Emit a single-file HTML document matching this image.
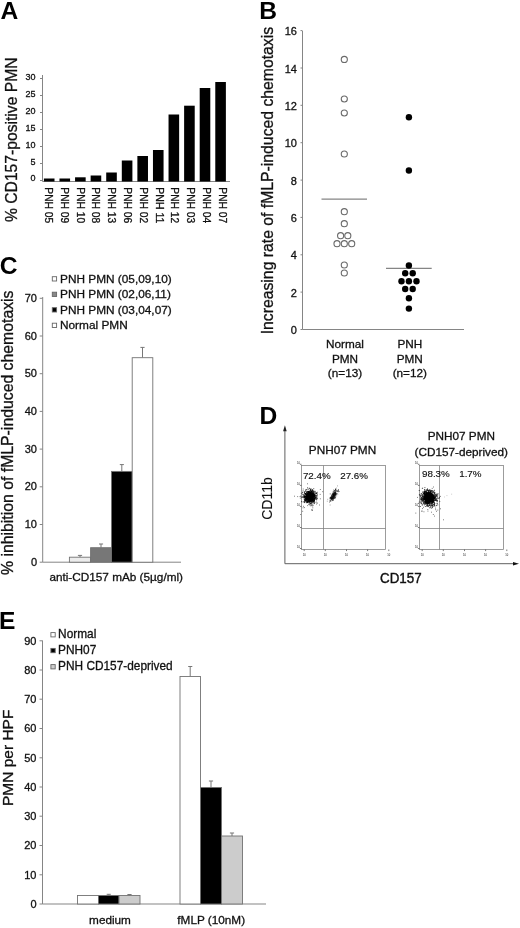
<!DOCTYPE html>
<html><head><meta charset="utf-8"><title>Figure</title>
<style>
html,body{margin:0;padding:0;background:#fff;}
svg{display:block;filter:blur(0.4px)}
text{font-family:"Liberation Sans",sans-serif;fill:#111;stroke:#111;stroke-width:0.3px}
.t{font-size:11.75px}
.s{font-size:10px}
.big{font-size:16px}
.pl{font-size:24.6px;font-weight:bold;fill:#000;stroke:none}
.ax{stroke:#858585;stroke-width:1;fill:none}
.tk{stroke:#858585;stroke-width:1}
</style></head><body>
<svg width="520" height="928" viewBox="0 0 520 928">
<rect width="520" height="928" fill="#fff"/>

<g id="A">
<text class="pl" x="0.6" y="19">A</text>
<text class="big" transform="translate(17.3,222) rotate(-90)" textLength="164.5" lengthAdjust="spacingAndGlyphs" style="font-size:15.6px">% CD157-positive PMN</text>
<path class="ax" d="M42.5 75 V181.5 H230"/>
<path class="tk" d="M40.0 180.5 H42.5"/>
<text class="s" x="35.5" y="181.4" text-anchor="end" style="font-size:9px">0</text>
<path class="tk" d="M40.0 163.5 H42.5"/>
<text class="s" x="35.5" y="164.6" text-anchor="end" style="font-size:9px">5</text>
<path class="tk" d="M40.0 146.5 H42.5"/>
<text class="s" x="35.5" y="147.7" text-anchor="end" style="font-size:9px">10</text>
<path class="tk" d="M40.0 129.5 H42.5"/>
<text class="s" x="35.5" y="130.9" text-anchor="end" style="font-size:9px">15</text>
<path class="tk" d="M40.0 112.5 H42.5"/>
<text class="s" x="35.5" y="114.1" text-anchor="end" style="font-size:9px">20</text>
<path class="tk" d="M40.0 95.5 H42.5"/>
<text class="s" x="35.5" y="97.2" text-anchor="end" style="font-size:9px">25</text>
<path class="tk" d="M40.0 78.5 H42.5"/>
<text class="s" x="35.5" y="80.4" text-anchor="end" style="font-size:9px">30</text>
<rect x="43.90" y="178.5" width="10.6" height="3.00" fill="#000"/>
<text transform="translate(45.20,187.3) rotate(90)" textLength="36" lengthAdjust="spacingAndGlyphs" style="font-size:10.3px">PNH 05</text>
<rect x="59.48" y="178.5" width="10.6" height="3.00" fill="#000"/>
<text transform="translate(60.96,187.3) rotate(90)" textLength="36" lengthAdjust="spacingAndGlyphs" style="font-size:10.3px">PNH 09</text>
<rect x="75.06" y="177.3" width="10.6" height="4.20" fill="#000"/>
<text transform="translate(76.72,187.3) rotate(90)" textLength="36" lengthAdjust="spacingAndGlyphs" style="font-size:10.3px">PNH 10</text>
<rect x="90.64" y="175.5" width="10.6" height="6.00" fill="#000"/>
<text transform="translate(92.48,187.3) rotate(90)" textLength="36" lengthAdjust="spacingAndGlyphs" style="font-size:10.3px">PNH 08</text>
<rect x="106.22" y="172.5" width="10.6" height="9.00" fill="#000"/>
<text transform="translate(108.24,187.3) rotate(90)" textLength="36" lengthAdjust="spacingAndGlyphs" style="font-size:10.3px">PNH 13</text>
<rect x="121.80" y="160.5" width="10.6" height="21.00" fill="#000"/>
<text transform="translate(124.00,187.3) rotate(90)" textLength="36" lengthAdjust="spacingAndGlyphs" style="font-size:10.3px">PNH 06</text>
<rect x="137.38" y="156" width="10.6" height="25.50" fill="#000"/>
<text transform="translate(139.76,187.3) rotate(90)" textLength="36" lengthAdjust="spacingAndGlyphs" style="font-size:10.3px">PNH 02</text>
<rect x="152.96" y="150" width="10.6" height="31.50" fill="#000"/>
<text transform="translate(155.52,187.3) rotate(90)" textLength="36" lengthAdjust="spacingAndGlyphs" style="font-size:10.3px">PNH 11</text>
<rect x="168.54" y="114.5" width="10.6" height="67.00" fill="#000"/>
<text transform="translate(171.28,187.3) rotate(90)" textLength="36" lengthAdjust="spacingAndGlyphs" style="font-size:10.3px">PNH 12</text>
<rect x="184.12" y="105.7" width="10.6" height="75.80" fill="#000"/>
<text transform="translate(187.04,187.3) rotate(90)" textLength="36" lengthAdjust="spacingAndGlyphs" style="font-size:10.3px">PNH 03</text>
<rect x="199.70" y="88" width="10.6" height="93.50" fill="#000"/>
<text transform="translate(202.80,187.3) rotate(90)" textLength="36" lengthAdjust="spacingAndGlyphs" style="font-size:10.3px">PNH 04</text>
<rect x="215.28" y="82" width="10.6" height="99.50" fill="#000"/>
<text transform="translate(218.56,187.3) rotate(90)" textLength="36" lengthAdjust="spacingAndGlyphs" style="font-size:10.3px">PNH 07</text>
</g>
<g id="B">
<text class="pl" x="259.2" y="19">B</text>
<text class="big" transform="translate(272.5,334.3) rotate(-90)" textLength="307.4" lengthAdjust="spacingAndGlyphs">Increasing rate of fMLP-induced chemotaxis</text>
<path class="ax" d="M302.5 31 V329.5 H464"/>
<path class="tk" d="M300.5 329.5 H302.5"/>
<text class="t" x="296.9" y="334.1" text-anchor="end" style="font-size:11px">0</text>
<path class="tk" d="M300.5 292.1 H302.5"/>
<text class="t" x="296.9" y="296.7" text-anchor="end" style="font-size:11px">2</text>
<path class="tk" d="M300.5 254.8 H302.5"/>
<text class="t" x="296.9" y="259.4" text-anchor="end" style="font-size:11px">4</text>
<path class="tk" d="M300.5 217.4 H302.5"/>
<text class="t" x="296.9" y="222.0" text-anchor="end" style="font-size:11px">6</text>
<path class="tk" d="M300.5 180.1 H302.5"/>
<text class="t" x="296.9" y="184.7" text-anchor="end" style="font-size:11px">8</text>
<path class="tk" d="M300.5 142.7 H302.5"/>
<text class="t" x="296.9" y="147.3" text-anchor="end" style="font-size:11px">10</text>
<path class="tk" d="M300.5 105.3 H302.5"/>
<text class="t" x="296.9" y="109.9" text-anchor="end" style="font-size:11px">12</text>
<path class="tk" d="M300.5 68.0 H302.5"/>
<text class="t" x="296.9" y="72.6" text-anchor="end" style="font-size:11px">14</text>
<path class="tk" d="M300.5 30.6 H302.5"/>
<text class="t" x="296.9" y="35.2" text-anchor="end" style="font-size:11px">16</text>
<circle cx="344.3" cy="59.4" r="3.05" fill="#fff" stroke="#6a6a6a" stroke-width="1.1"/>
<circle cx="344.3" cy="99" r="3.05" fill="#fff" stroke="#6a6a6a" stroke-width="1.1"/>
<circle cx="344.3" cy="113" r="3.05" fill="#fff" stroke="#6a6a6a" stroke-width="1.1"/>
<circle cx="344.3" cy="154" r="3.05" fill="#fff" stroke="#6a6a6a" stroke-width="1.1"/>
<circle cx="344.3" cy="211.7" r="3.05" fill="#fff" stroke="#6a6a6a" stroke-width="1.1"/>
<circle cx="344.3" cy="223.7" r="3.05" fill="#fff" stroke="#6a6a6a" stroke-width="1.1"/>
<circle cx="340.6" cy="235.7" r="3.05" fill="#fff" stroke="#6a6a6a" stroke-width="1.1"/>
<circle cx="347.8" cy="235.7" r="3.05" fill="#fff" stroke="#6a6a6a" stroke-width="1.1"/>
<circle cx="337" cy="243.7" r="3.05" fill="#fff" stroke="#6a6a6a" stroke-width="1.1"/>
<circle cx="344.3" cy="243.7" r="3.05" fill="#fff" stroke="#6a6a6a" stroke-width="1.1"/>
<circle cx="351.7" cy="243.7" r="3.05" fill="#fff" stroke="#6a6a6a" stroke-width="1.1"/>
<circle cx="344.3" cy="265" r="3.05" fill="#fff" stroke="#6a6a6a" stroke-width="1.1"/>
<circle cx="344.3" cy="273" r="3.05" fill="#fff" stroke="#6a6a6a" stroke-width="1.1"/>
<path d="M321.5 199.2 H367" stroke="#858585" stroke-width="1.2"/>
<path d="M386 268.3 H431.7" stroke="#858585" stroke-width="1.2"/>
<circle cx="408.9" cy="117.2" r="3.2" fill="#000"/>
<circle cx="408.9" cy="170.5" r="3.2" fill="#000"/>
<circle cx="408.9" cy="265.5" r="3.2" fill="#000"/>
<circle cx="405.2" cy="273.2" r="3.2" fill="#000"/>
<circle cx="412.7" cy="273.2" r="3.2" fill="#000"/>
<circle cx="401.5" cy="281.2" r="3.2" fill="#000"/>
<circle cx="408.9" cy="281.2" r="3.2" fill="#000"/>
<circle cx="416.5" cy="281.2" r="3.2" fill="#000"/>
<circle cx="405.2" cy="289" r="3.2" fill="#000"/>
<circle cx="412.7" cy="289" r="3.2" fill="#000"/>
<circle cx="408.9" cy="298.2" r="3.2" fill="#000"/>
<circle cx="408.9" cy="308.6" r="3.2" fill="#000"/>
<text class="t" x="345" y="348.4" text-anchor="middle">Normal</text>
<text class="t" x="345" y="362.7" text-anchor="middle">PMN</text>
<text class="t" x="345" y="377.0" text-anchor="middle">(n=13)</text>
<text class="t" x="409.8" y="348.4" text-anchor="middle">PNH</text>
<text class="t" x="409.8" y="362.7" text-anchor="middle">PMN</text>
<text class="t" x="409.8" y="377.0" text-anchor="middle">(n=12)</text>
</g>
<g id="C">
<text class="pl" x="-0.2" y="273.8">C</text>
<text class="big" transform="translate(13,575) rotate(-90)" textLength="284.5" lengthAdjust="spacingAndGlyphs" style="font-size:15.75px">% inhibition of fMLP-induced chemotaxis</text>
<path class="ax" d="M42.7 297 V562.2 H181"/>
<path class="tk" d="M39.7 562.2 H42.7"/>
<text class="t" x="37.0" y="565.8" text-anchor="end" style="font-size:11px">0</text>
<path class="tk" d="M39.7 524.5 H42.7"/>
<text class="t" x="37.0" y="528.1" text-anchor="end" style="font-size:11px">10</text>
<path class="tk" d="M39.7 486.8 H42.7"/>
<text class="t" x="37.0" y="490.4" text-anchor="end" style="font-size:11px">20</text>
<path class="tk" d="M39.7 449.1 H42.7"/>
<text class="t" x="37.0" y="452.7" text-anchor="end" style="font-size:11px">30</text>
<path class="tk" d="M39.7 411.4 H42.7"/>
<text class="t" x="37.0" y="415.0" text-anchor="end" style="font-size:11px">40</text>
<path class="tk" d="M39.7 373.7 H42.7"/>
<text class="t" x="37.0" y="377.3" text-anchor="end" style="font-size:11px">50</text>
<path class="tk" d="M39.7 336.0 H42.7"/>
<text class="t" x="37.0" y="339.6" text-anchor="end" style="font-size:11px">60</text>
<path class="tk" d="M39.7 298.3 H42.7"/>
<text class="t" x="37.0" y="301.9" text-anchor="end" style="font-size:11px">70</text>
<path d="M80.0 557.2 V555.4 M77.9 555.4 H82.1" stroke="#777" stroke-width="1" fill="none"/>
<rect x="69.4" y="557.2" width="21.2" height="5.0" fill="#ececec" stroke="#727272" stroke-width="0.9"/>
<path d="M101.0 547.7 V544 M99.0 544 H103.1" stroke="#777" stroke-width="1" fill="none"/>
<rect x="90.6" y="547.7" width="20.9" height="14.5" fill="#777" stroke="#727272" stroke-width="0.9"/>
<path d="M121.8 471.4 V464.6 M119.8 464.6 H123.9" stroke="#777" stroke-width="1" fill="none"/>
<rect x="111.5" y="471.4" width="20.7" height="90.8" fill="#000" stroke="#727272" stroke-width="0.9"/>
<path d="M142.5 357.7 V347.4 M140.4 347.4 H144.6" stroke="#777" stroke-width="1" fill="none"/>
<rect x="132.2" y="357.7" width="20.6" height="204.5" fill="#fff" stroke="#727272" stroke-width="0.9"/>
<text class="t" x="49.4" y="580.6" textLength="133.6" lengthAdjust="spacingAndGlyphs">anti-CD157 mAb (5µg/ml)</text>
<rect x="52.3" y="276.7" width="4.3" height="4.3" fill="#fff" stroke="#666" stroke-width="0.9"/>
<text class="t" x="60" y="282.8" style="font-size:11.83px">PNH PMN (05,09,10)</text>
<rect x="52.3" y="292.2" width="4.3" height="4.3" fill="#888" stroke="#666" stroke-width="0.9"/>
<text class="t" x="60" y="298.3" style="font-size:11.83px">PNH PMN (02,06,11)</text>
<rect x="52.3" y="307.7" width="4.3" height="4.3" fill="#000" stroke="#666" stroke-width="0.9"/>
<text class="t" x="60" y="313.8" style="font-size:11.83px">PNH PMN (03,04,07)</text>
<rect x="52.3" y="323.2" width="4.3" height="4.3" fill="#fff" stroke="#666" stroke-width="0.9"/>
<text class="t" x="60" y="329.3" style="font-size:11.83px">Normal PMN</text>
</g>
<g id="D">
<text class="pl" x="259.6" y="424.2">D</text>
<path d="M284.9 430 V563.7 H514" stroke="#606060" stroke-width="1" fill="none"/>
<path d="M284.9 425.3 L283.1 431.3 H286.7 Z" fill="#222"/>
<path d="M519 563.7 L513 562 V565.4 Z" fill="#111"/>
<text class="big" transform="translate(272,519.8) rotate(-90)" textLength="42.6" lengthAdjust="spacingAndGlyphs" style="font-size:14.8px;stroke-width:0.1px">CD11b</text>
<text class="big" x="380" y="583.3" textLength="41.6" lengthAdjust="spacingAndGlyphs" style="font-size:14px;stroke-width:0.4px">CD157</text>
<text class="t" x="342.5" y="454.3" text-anchor="middle">PNH07 PMN</text>
<text class="t" x="461.3" y="440" text-anchor="middle">PNH07 PMN</text>
<text class="t" x="461.3" y="455.5" text-anchor="middle">(CD157-deprived)</text>
<rect x="301.5" y="465.5" width="84.0" height="84.0" fill="none" stroke="#7c7c7c" stroke-width="0.75"/>
<path d="M323.5 465.5 V549.5 M301.5 528.5 H385.5" stroke="#7c7c7c" stroke-width="0.75" fill="none"/>
<text x="296.9" y="548.1" style="font-size:4.4px;fill:#111;stroke:none" textLength="3" lengthAdjust="spacingAndGlyphs">10</text>
<path d="M299.9 548.5 H301.5" stroke="#444" stroke-width="0.7"/>
<text x="302.7" y="555.8" style="font-size:4.4px;fill:#111;stroke:none" textLength="3" lengthAdjust="spacingAndGlyphs">10</text>
<path d="M304.2 549.5 v1.6" stroke="#444" stroke-width="0.7"/>
<text x="296.9" y="527.1" style="font-size:4.4px;fill:#111;stroke:none" textLength="3" lengthAdjust="spacingAndGlyphs">10</text>
<path d="M299.9 527.5 H301.5" stroke="#444" stroke-width="0.7"/>
<text x="323.8" y="555.8" style="font-size:4.4px;fill:#111;stroke:none" textLength="3" lengthAdjust="spacingAndGlyphs">10</text>
<path d="M325.3 549.5 v1.6" stroke="#444" stroke-width="0.7"/>
<text x="296.9" y="506.0" style="font-size:4.4px;fill:#111;stroke:none" textLength="3" lengthAdjust="spacingAndGlyphs">10</text>
<path d="M299.9 506.4 H301.5" stroke="#444" stroke-width="0.7"/>
<text x="345.0" y="555.8" style="font-size:4.4px;fill:#111;stroke:none" textLength="3" lengthAdjust="spacingAndGlyphs">10</text>
<path d="M346.5 549.5 v1.6" stroke="#444" stroke-width="0.7"/>
<text x="296.9" y="484.9" style="font-size:4.4px;fill:#111;stroke:none" textLength="3" lengthAdjust="spacingAndGlyphs">10</text>
<path d="M299.9 485.4 H301.5" stroke="#444" stroke-width="0.7"/>
<text x="366.1" y="555.8" style="font-size:4.4px;fill:#111;stroke:none" textLength="3" lengthAdjust="spacingAndGlyphs">10</text>
<path d="M367.6 549.5 v1.6" stroke="#444" stroke-width="0.7"/>
<text x="296.9" y="463.9" style="font-size:4.4px;fill:#111;stroke:none" textLength="3" lengthAdjust="spacingAndGlyphs">10</text>
<path d="M299.9 464.3 H301.5" stroke="#444" stroke-width="0.7"/>
<text x="387.3" y="555.8" style="font-size:4.4px;fill:#111;stroke:none" textLength="3" lengthAdjust="spacingAndGlyphs">10</text>
<path d="M388.8 549.5 v1.6" stroke="#444" stroke-width="0.7"/>
<text x="302.9" y="478.6" style="font-size:9.8px;stroke-width:0.15px">72.4%</text>
<text x="340.2" y="478.6" style="font-size:9.8px;stroke-width:0.15px">27.6%</text>
<rect x="419.5" y="465.5" width="84.0" height="84.0" fill="none" stroke="#7c7c7c" stroke-width="0.75"/>
<path d="M439.5 465.5 V549.5 M419.5 528.5 H503.5" stroke="#7c7c7c" stroke-width="0.75" fill="none"/>
<text x="414.9" y="548.1" style="font-size:4.4px;fill:#111;stroke:none" textLength="3" lengthAdjust="spacingAndGlyphs">10</text>
<path d="M417.9 548.5 H419.5" stroke="#444" stroke-width="0.7"/>
<text x="420.7" y="555.8" style="font-size:4.4px;fill:#111;stroke:none" textLength="3" lengthAdjust="spacingAndGlyphs">10</text>
<path d="M422.2 549.5 v1.6" stroke="#444" stroke-width="0.7"/>
<text x="414.9" y="527.1" style="font-size:4.4px;fill:#111;stroke:none" textLength="3" lengthAdjust="spacingAndGlyphs">10</text>
<path d="M417.9 527.5 H419.5" stroke="#444" stroke-width="0.7"/>
<text x="441.8" y="555.8" style="font-size:4.4px;fill:#111;stroke:none" textLength="3" lengthAdjust="spacingAndGlyphs">10</text>
<path d="M443.3 549.5 v1.6" stroke="#444" stroke-width="0.7"/>
<text x="414.9" y="506.0" style="font-size:4.4px;fill:#111;stroke:none" textLength="3" lengthAdjust="spacingAndGlyphs">10</text>
<path d="M417.9 506.4 H419.5" stroke="#444" stroke-width="0.7"/>
<text x="463.0" y="555.8" style="font-size:4.4px;fill:#111;stroke:none" textLength="3" lengthAdjust="spacingAndGlyphs">10</text>
<path d="M464.5 549.5 v1.6" stroke="#444" stroke-width="0.7"/>
<text x="414.9" y="484.9" style="font-size:4.4px;fill:#111;stroke:none" textLength="3" lengthAdjust="spacingAndGlyphs">10</text>
<path d="M417.9 485.4 H419.5" stroke="#444" stroke-width="0.7"/>
<text x="484.1" y="555.8" style="font-size:4.4px;fill:#111;stroke:none" textLength="3" lengthAdjust="spacingAndGlyphs">10</text>
<path d="M485.6 549.5 v1.6" stroke="#444" stroke-width="0.7"/>
<text x="414.9" y="463.9" style="font-size:4.4px;fill:#111;stroke:none" textLength="3" lengthAdjust="spacingAndGlyphs">10</text>
<path d="M417.9 464.3 H419.5" stroke="#444" stroke-width="0.7"/>
<text x="505.3" y="555.8" style="font-size:4.4px;fill:#111;stroke:none" textLength="3" lengthAdjust="spacingAndGlyphs">10</text>
<path d="M506.8 549.5 v1.6" stroke="#444" stroke-width="0.7"/>
<text x="422" y="477.3" style="font-size:9.8px;stroke-width:0.15px">98.3%</text>
<text x="459.2" y="477.3" style="font-size:9.8px;stroke-width:0.15px">1.7%</text>
<path d="M313.0 500.6h0.8M309.7 494.6h0.8M306.6 496.8h0.8M306.7 492.8h0.8M310.0 497.1h0.8M311.0 494.2h0.8M309.5 496.5h0.8M305.4 498.2h0.8M310.4 503.2h0.8M310.0 496.3h0.8M312.8 497.2h0.8M312.0 495.7h0.8M310.1 499.5h0.8M311.4 497.0h0.8M306.6 497.9h0.8M309.7 498.6h0.8M310.1 499.6h0.8M309.4 497.2h0.8M311.3 493.8h0.8M308.4 495.3h0.8M314.8 496.4h0.8M311.3 498.4h0.8M308.7 492.5h0.8M312.1 495.6h0.8M311.4 493.2h0.8M308.3 500.1h0.8M313.4 493.2h0.8M305.9 496.6h0.8M311.5 497.1h0.8M310.3 494.0h0.8M311.1 499.7h0.8M308.3 492.8h0.8M307.5 498.8h0.8M304.8 496.5h0.8M306.8 496.3h0.8M308.8 496.7h0.8M313.6 497.8h0.8M313.1 496.3h0.8M308.2 497.7h0.8M301.8 496.6h0.8M309.9 493.4h0.8M310.8 495.2h0.8M302.9 496.1h0.8M306.9 495.3h0.8M309.1 500.1h0.8M309.8 496.6h0.8M310.6 491.8h0.8M312.8 493.8h0.8M310.7 493.7h0.8M306.9 495.6h0.8M314.6 498.6h0.8M307.9 495.9h0.8M306.4 496.6h0.8M308.0 498.6h0.8M305.8 495.8h0.8M307.2 494.8h0.8M311.4 497.0h0.8M311.1 499.9h0.8M312.6 493.0h0.8M310.9 491.9h0.8M309.3 501.9h0.8M309.0 495.7h0.8M310.0 496.7h0.8M309.6 494.7h0.8M312.4 499.1h0.8M308.9 497.5h0.8M311.3 499.5h0.8M310.6 498.6h0.8M308.8 493.8h0.8M308.2 499.5h0.8M312.1 497.1h0.8M308.0 497.5h0.8M314.0 500.4h0.8M307.7 496.6h0.8M305.6 493.6h0.8M310.0 496.8h0.8M312.1 500.1h0.8M311.8 500.3h0.8M308.0 493.7h0.8M310.9 503.9h0.8M310.5 493.6h0.8M310.2 500.5h0.8M306.7 498.9h0.8M307.8 500.1h0.8M311.6 497.5h0.8M314.9 495.6h0.8M307.6 501.7h0.8M307.1 502.6h0.8M309.4 493.9h0.8M309.5 497.1h0.8M310.0 496.2h0.8M312.4 490.4h0.8M308.0 496.0h0.8M314.4 491.3h0.8M308.6 493.6h0.8M307.7 498.4h0.8M310.6 500.6h0.8M307.9 497.4h0.8M312.7 499.1h0.8M308.6 499.7h0.8M307.0 501.6h0.8M309.9 496.4h0.8M310.2 499.0h0.8M314.2 496.3h0.8M308.5 498.3h0.8M307.1 492.1h0.8M311.8 495.7h0.8M312.5 493.9h0.8M301.7 497.5h0.8M309.9 501.0h0.8M310.9 497.5h0.8M311.1 495.7h0.8M309.7 493.0h0.8M310.9 494.5h0.8M308.3 498.6h0.8M312.0 494.0h0.8M314.9 495.1h0.8M311.8 499.3h0.8M310.1 497.2h0.8M314.4 499.1h0.8M310.7 491.8h0.8M307.5 499.8h0.8M310.0 494.1h0.8M307.8 495.9h0.8M311.4 497.7h0.8M312.2 494.5h0.8M312.2 495.3h0.8M308.7 501.4h0.8M309.7 496.3h0.8M308.9 495.7h0.8M313.7 500.4h0.8M311.4 497.2h0.8M312.3 496.5h0.8M310.7 497.8h0.8M309.7 501.2h0.8M314.2 500.3h0.8M304.3 501.7h0.8M311.4 495.5h0.8M309.4 499.8h0.8M312.7 499.0h0.8M309.9 496.8h0.8M311.7 496.5h0.8M307.1 495.0h0.8M309.1 497.6h0.8M315.6 493.0h0.8M310.8 496.5h0.8M310.3 500.4h0.8M312.9 496.3h0.8M308.0 493.0h0.8M309.3 500.1h0.8M308.8 498.6h0.8M311.4 497.8h0.8M312.4 496.4h0.8M307.3 493.5h0.8M312.0 495.7h0.8M308.7 499.0h0.8M307.4 501.5h0.8M311.3 495.3h0.8M307.8 499.6h0.8M306.3 495.0h0.8M309.5 497.2h0.8M309.5 497.7h0.8M308.5 496.4h0.8M312.9 498.4h0.8M308.3 501.3h0.8M304.1 496.9h0.8M311.3 499.3h0.8M309.8 495.7h0.8M311.1 496.2h0.8M310.8 489.0h0.8M310.5 494.6h0.8M312.0 498.7h0.8M311.5 495.6h0.8M310.7 495.8h0.8M310.1 496.3h0.8M307.1 502.0h0.8M311.5 491.1h0.8M311.9 492.9h0.8M308.9 495.1h0.8M308.1 497.4h0.8M308.6 492.8h0.8M309.5 497.7h0.8M314.3 495.6h0.8M306.3 495.7h0.8M311.3 494.3h0.8M307.6 498.2h0.8M309.5 497.3h0.8M307.8 494.5h0.8M308.6 496.3h0.8M308.6 497.9h0.8M311.0 498.2h0.8M310.8 494.3h0.8M306.5 498.9h0.8M309.5 497.0h0.8M306.4 496.1h0.8M307.8 494.4h0.8M307.8 492.7h0.8M309.7 499.8h0.8M307.6 497.0h0.8M306.6 498.5h0.8M314.5 493.4h0.8M308.9 500.5h0.8M310.5 497.0h0.8M304.0 496.3h0.8M312.0 500.6h0.8M311.2 495.1h0.8M307.6 491.8h0.8M306.6 499.7h0.8M309.2 493.1h0.8M313.1 492.2h0.8M312.9 495.8h0.8M310.4 498.5h0.8M310.2 500.1h0.8M309.5 495.8h0.8M307.7 492.8h0.8M307.6 499.4h0.8M311.7 500.5h0.8M316.9 498.6h0.8M310.9 493.1h0.8M308.8 502.6h0.8M310.9 496.3h0.8M310.3 491.6h0.8M307.2 493.2h0.8M303.7 498.8h0.8M312.1 496.2h0.8M310.4 494.0h0.8M310.7 498.8h0.8M313.6 500.9h0.8M310.8 496.4h0.8M307.3 495.1h0.8M311.2 498.2h0.8M309.6 501.2h0.8M311.3 496.7h0.8M309.0 496.9h0.8M306.9 494.1h0.8M310.4 495.1h0.8M308.8 500.0h0.8M309.0 500.2h0.8M309.5 500.8h0.8M310.8 492.0h0.8M312.8 496.1h0.8M304.2 497.0h0.8M309.9 493.2h0.8M307.9 498.2h0.8M313.3 499.8h0.8M312.8 499.7h0.8M302.8 494.7h0.8M310.0 489.4h0.8M311.6 499.1h0.8M307.4 495.7h0.8M307.0 496.7h0.8M309.4 496.7h0.8M306.7 497.7h0.8M308.6 499.3h0.8M310.3 492.7h0.8M305.6 496.9h0.8M308.2 498.0h0.8M311.7 496.8h0.8M304.9 493.5h0.8M311.0 493.9h0.8M312.5 496.5h0.8M310.9 494.3h0.8M309.2 488.7h0.8M308.9 498.3h0.8M307.1 494.4h0.8M309.4 496.9h0.8M307.3 498.5h0.8M305.1 499.7h0.8M305.7 494.5h0.8M313.1 494.0h0.8M305.0 496.9h0.8M307.0 493.7h0.8M307.6 494.7h0.8M306.9 493.9h0.8M313.9 494.9h0.8M312.1 492.9h0.8M311.0 493.3h0.8M308.3 498.4h0.8M308.1 491.4h0.8M308.0 496.3h0.8M311.0 494.0h0.8M308.7 496.9h0.8M305.0 496.4h0.8M307.3 497.9h0.8M309.2 496.3h0.8M303.0 496.4h0.8M308.5 494.2h0.8M308.1 493.3h0.8M310.0 498.5h0.8M311.1 495.3h0.8M314.0 499.0h0.8M306.9 496.3h0.8M305.1 496.4h0.8M311.4 500.1h0.8M308.4 491.9h0.8M309.0 500.4h0.8M309.9 500.1h0.8M311.7 500.9h0.8M311.1 494.9h0.8M310.7 503.6h0.8M308.1 491.7h0.8M315.2 497.8h0.8M307.8 495.1h0.8M305.3 498.6h0.8M309.9 495.0h0.8M308.4 495.5h0.8M312.4 496.2h0.8M313.2 494.4h0.8M307.8 495.4h0.8M308.0 496.5h0.8M312.3 500.0h0.8M306.6 500.2h0.8M309.8 501.0h0.8M309.0 494.4h0.8M311.6 498.4h0.8M308.3 496.8h0.8M309.9 497.5h0.8M304.9 493.4h0.8M309.6 497.4h0.8M308.1 491.9h0.8M313.1 495.9h0.8M306.7 501.0h0.8M312.6 499.5h0.8M311.8 498.2h0.8M306.9 496.8h0.8M310.5 498.4h0.8M310.8 494.0h0.8M307.9 495.8h0.8M309.0 494.3h0.8M304.6 493.4h0.8M310.3 496.7h0.8M311.1 491.6h0.8M308.4 499.1h0.8M304.2 493.8h0.8M305.0 500.0h0.8M309.6 495.2h0.8M309.9 496.5h0.8M311.9 499.9h0.8M312.0 497.6h0.8M311.6 498.9h0.8M312.6 491.7h0.8M310.4 496.9h0.8M309.9 496.0h0.8M309.3 498.0h0.8M310.0 497.0h0.8M306.6 493.3h0.8M307.5 491.9h0.8M308.1 494.4h0.8M304.6 491.5h0.8M308.2 495.1h0.8M315.4 499.0h0.8M307.4 495.4h0.8M306.8 494.6h0.8M308.6 496.6h0.8M307.8 498.9h0.8M311.2 502.0h0.8M306.0 498.5h0.8M308.5 492.4h0.8M308.7 492.3h0.8M309.4 504.1h0.8M313.0 501.6h0.8M312.7 492.5h0.8M310.6 497.1h0.8M310.7 493.9h0.8M304.1 502.4h0.8M312.7 497.5h0.8M308.2 497.2h0.8M306.2 499.3h0.8M309.9 496.3h0.8M308.3 496.5h0.8M309.9 495.6h0.8M312.1 497.3h0.8M309.2 494.4h0.8M312.8 500.2h0.8M311.4 491.7h0.8M308.6 499.4h0.8M309.6 500.1h0.8M308.3 498.9h0.8M310.9 490.1h0.8M308.4 496.1h0.8M307.8 494.3h0.8M313.8 496.4h0.8M311.6 493.1h0.8M303.9 495.4h0.8M310.6 494.7h0.8M310.9 498.9h0.8M308.3 496.5h0.8M307.5 499.6h0.8M314.3 498.0h0.8M308.1 494.8h0.8M308.7 499.1h0.8M307.5 500.7h0.8M306.2 496.7h0.8M313.1 501.5h0.8M308.4 498.8h0.8M316.3 499.9h0.8M303.6 497.5h0.8M315.9 493.6h0.8M312.0 491.1h0.8M313.8 494.4h0.8M311.7 499.2h0.8M302.0 492.8h0.8M310.4 492.6h0.8M309.4 494.1h0.8M313.1 495.3h0.8M307.0 498.4h0.8M312.8 496.3h0.8M310.3 498.0h0.8M308.2 493.5h0.8M310.9 495.7h0.8M305.8 499.0h0.8M310.7 497.1h0.8M307.5 496.1h0.8M311.1 498.0h0.8M307.3 494.3h0.8M310.4 497.2h0.8M311.8 493.6h0.8M312.0 501.5h0.8M312.1 497.1h0.8M311.9 493.2h0.8M308.3 502.3h0.8M305.1 493.6h0.8M311.7 494.9h0.8M308.0 493.7h0.8M314.0 495.1h0.8M308.8 491.8h0.8M311.6 496.7h0.8M310.8 501.0h0.8M309.9 493.5h0.8M306.8 496.9h0.8M313.1 493.5h0.8M308.8 496.3h0.8M311.3 494.3h0.8M310.3 498.8h0.8M309.4 496.4h0.8M311.2 498.3h0.8M312.9 493.8h0.8M312.8 496.1h0.8M306.4 495.2h0.8M306.2 496.2h0.8M312.3 490.6h0.8M306.3 498.8h0.8M308.7 498.8h0.8M305.9 496.6h0.8M302.5 494.4h0.8M311.5 500.0h0.8M313.9 496.5h0.8M307.1 495.7h0.8M304.3 500.4h0.8M312.7 494.2h0.8M314.4 493.0h0.8M311.0 494.5h0.8M304.8 497.8h0.8M306.4 499.9h0.8M307.1 497.0h0.8M308.2 497.1h0.8M307.8 498.9h0.8M311.1 496.9h0.8M309.2 502.0h0.8M307.6 495.5h0.8M311.6 496.7h0.8M305.1 496.3h0.8M308.5 494.0h0.8M310.0 493.6h0.8M308.8 493.6h0.8M313.7 495.9h0.8M310.7 497.5h0.8M311.4 496.3h0.8M311.5 497.0h0.8M302.9 497.5h0.8M306.0 499.3h0.8M310.1 495.7h0.8M302.7 490.9h0.8M306.3 495.7h0.8M305.8 502.1h0.8M310.7 496.5h0.8M306.8 495.8h0.8M308.9 495.5h0.8M309.3 498.9h0.8M304.7 497.3h0.8M312.5 493.0h0.8M309.0 495.7h0.8M306.4 499.3h0.8M308.6 499.8h0.8M310.6 495.9h0.8M310.3 495.7h0.8M305.1 500.5h0.8M310.5 499.8h0.8M304.6 499.5h0.8M311.7 496.6h0.8M303.8 497.0h0.8M307.7 496.2h0.8M309.6 494.3h0.8M309.1 496.7h0.8M313.4 496.4h0.8M315.8 493.5h0.8M309.1 500.0h0.8M305.3 498.4h0.8M310.6 495.1h0.8M308.9 500.9h0.8M308.3 497.5h0.8M310.7 500.0h0.8M303.9 492.7h0.8M305.9 495.9h0.8M311.2 498.9h0.8M308.7 500.8h0.8M309.3 498.6h0.8M307.4 498.9h0.8M307.6 499.8h0.8M311.8 501.7h0.8M308.4 493.6h0.8M311.7 497.6h0.8M308.1 493.1h0.8M311.7 491.4h0.8M308.2 499.6h0.8M308.8 497.9h0.8M310.8 498.3h0.8M312.4 498.5h0.8M308.5 493.4h0.8M308.7 494.9h0.8M310.6 500.0h0.8M311.6 494.8h0.8M310.0 496.7h0.8M308.2 500.2h0.8M311.2 497.7h0.8M306.2 489.6h0.8M307.5 499.8h0.8M308.9 496.6h0.8M308.8 498.0h0.8M309.5 501.3h0.8M309.2 496.0h0.8M313.3 498.7h0.8M311.4 498.1h0.8M309.4 497.6h0.8M310.9 497.0h0.8M304.4 500.4h0.8M308.2 495.2h0.8M308.6 494.7h0.8M307.1 496.5h0.8M311.9 495.9h0.8M310.8 493.1h0.8M311.5 493.6h0.8M311.4 494.7h0.8M307.9 493.3h0.8M306.1 496.1h0.8M306.9 496.1h0.8M312.6 494.4h0.8M308.6 496.4h0.8M307.8 496.6h0.8M310.1 499.5h0.8M307.5 496.1h0.8M309.1 500.0h0.8M306.8 497.2h0.8M311.6 498.3h0.8M307.6 493.9h0.8M304.5 495.3h0.8M308.8 492.7h0.8M311.8 497.1h0.8M308.9 495.3h0.8M310.8 495.9h0.8M310.9 495.4h0.8M312.4 492.3h0.8M306.6 501.6h0.8M312.3 501.1h0.8M307.4 498.7h0.8M312.2 499.2h0.8M309.0 500.7h0.8M310.6 493.2h0.8M316.2 497.0h0.8M312.9 494.8h0.8M307.0 499.1h0.8M311.7 494.7h0.8M310.2 493.1h0.8M303.9 499.6h0.8M306.4 498.7h0.8M312.4 497.7h0.8M313.6 497.7h0.8M310.3 496.7h0.8M310.6 497.7h0.8M307.0 496.6h0.8M308.5 504.4h0.8M312.8 494.6h0.8M311.1 492.0h0.8M309.6 501.6h0.8M309.7 500.2h0.8M308.5 497.9h0.8M310.5 490.8h0.8M307.3 501.8h0.8M307.3 500.0h0.8M314.1 496.6h0.8M312.2 497.7h0.8M307.9 498.3h0.8M310.7 494.0h0.8M308.3 493.1h0.8M308.6 496.6h0.8M306.9 491.7h0.8M311.3 500.1h0.8M307.0 496.9h0.8M307.7 489.6h0.8M315.2 497.5h0.8M305.7 500.1h0.8M311.5 500.5h0.8M311.5 498.1h0.8M313.4 496.0h0.8M310.1 493.8h0.8M306.4 497.3h0.8M310.1 492.4h0.8M310.5 499.4h0.8M306.1 495.8h0.8M314.1 494.4h0.8M311.0 498.8h0.8M310.0 497.1h0.8M311.0 497.5h0.8M309.9 492.7h0.8M310.2 494.6h0.8M313.5 502.7h0.8M312.5 490.9h0.8M312.2 497.0h0.8M306.6 493.4h0.8M312.4 495.0h0.8M309.3 496.9h0.8M312.0 489.5h0.8M312.8 494.5h0.8M308.4 498.4h0.8M310.5 490.5h0.8M311.1 496.3h0.8M306.7 495.0h0.8M305.2 498.8h0.8M313.5 495.0h0.8M308.2 492.8h0.8M307.6 493.9h0.8M309.6 501.4h0.8M312.3 499.3h0.8M306.9 499.0h0.8M307.6 494.3h0.8M311.5 496.4h0.8M316.2 497.2h0.8M308.7 498.7h0.8M306.4 498.5h0.8M313.7 496.3h0.8M308.1 499.7h0.8M306.5 497.7h0.8M308.1 497.5h0.8M307.4 498.3h0.8M311.0 501.4h0.8M308.5 497.9h0.8M304.7 494.6h0.8M310.2 493.0h0.8M309.2 494.3h0.8M310.8 498.3h0.8M308.2 498.5h0.8M308.0 497.0h0.8M310.9 498.2h0.8M311.1 501.3h0.8M307.8 496.3h0.8M304.6 499.1h0.8M306.5 495.1h0.8M308.1 497.8h0.8M308.7 495.9h0.8M309.7 495.8h0.8M309.4 494.0h0.8M308.0 493.4h0.8M311.8 499.1h0.8M311.3 497.6h0.8M307.9 498.2h0.8M305.3 489.9h0.8M306.3 500.7h0.8M310.2 500.9h0.8M307.6 499.4h0.8M313.8 499.4h0.8M310.3 499.6h0.8M308.3 501.5h0.8M306.4 494.6h0.8M309.6 494.6h0.8M314.2 498.5h0.8M307.5 501.2h0.8M313.2 495.7h0.8M313.7 499.9h0.8M308.1 495.2h0.8M310.3 499.8h0.8M313.7 500.8h0.8M308.2 491.9h0.8M304.9 500.8h0.8M312.4 499.9h0.8M309.5 496.9h0.8M310.8 497.9h0.8M309.7 494.1h0.8M305.8 497.1h0.8M309.1 500.5h0.8M306.6 491.3h0.8M304.2 496.6h0.8M314.0 495.8h0.8M307.6 497.7h0.8M313.7 499.6h0.8M311.9 499.2h0.8M308.7 496.9h0.8M310.6 501.6h0.8M303.5 495.2h0.8M310.5 496.0h0.8M309.2 496.0h0.8M306.9 498.1h0.8M313.0 495.7h0.8M310.7 499.7h0.8M307.7 496.5h0.8M306.0 501.0h0.8M314.1 496.2h0.8M314.9 499.0h0.8M304.6 498.0h0.8M310.2 498.1h0.8M311.3 495.5h0.8M312.6 497.6h0.8M314.6 496.4h0.8M302.7 501.9h0.8M311.0 491.7h0.8M307.9 494.6h0.8M312.0 495.0h0.8M312.6 495.3h0.8M312.1 495.1h0.8M306.3 498.3h0.8M308.9 498.1h0.8M305.0 493.9h0.8M308.6 502.0h0.8M310.6 492.2h0.8M301.0 501.7h0.8M310.4 493.3h0.8M312.2 499.0h0.8M315.3 497.2h0.8M308.2 498.9h0.8M305.8 495.5h0.8M306.8 495.2h0.8M306.0 492.8h0.8M306.5 497.8h0.8M309.6 496.5h0.8M310.8 498.7h0.8M310.8 502.3h0.8M310.3 497.7h0.8M308.2 499.6h0.8M313.4 488.7h0.8M311.7 493.7h0.8M310.5 496.9h0.8M306.1 493.0h0.8M308.8 503.8h0.8M306.1 495.6h0.8M308.7 496.0h0.8M312.5 502.3h0.8M309.4 497.8h0.8M308.6 501.0h0.8M309.4 498.6h0.8M309.0 499.7h0.8M309.3 494.4h0.8M314.7 491.4h0.8M310.0 495.7h0.8M307.0 502.3h0.8M310.4 495.6h0.8M307.1 497.6h0.8M309.5 496.0h0.8M307.7 500.8h0.8M310.1 496.2h0.8M306.1 494.6h0.8M311.5 494.7h0.8M311.3 496.4h0.8M310.6 497.6h0.8M308.3 496.0h0.8M309.3 498.5h0.8M316.0 499.1h0.8M306.0 502.7h0.8M309.2 494.8h0.8M309.8 496.5h0.8M310.2 496.6h0.8M309.4 500.1h0.8M314.1 497.0h0.8M313.8 499.2h0.8M312.7 497.4h0.8M310.1 498.9h0.8M306.9 496.9h0.8M306.4 499.2h0.8M310.1 498.3h0.8M308.6 494.6h0.8M312.1 495.5h0.8M308.9 496.8h0.8M310.8 496.9h0.8M306.7 493.9h0.8M312.2 495.8h0.8M308.8 494.3h0.8M312.0 498.0h0.8M308.0 492.0h0.8M314.4 495.2h0.8M306.4 495.4h0.8M306.4 496.7h0.8M308.0 493.5h0.8M311.3 494.4h0.8M304.5 497.6h0.8M308.0 493.8h0.8M305.0 494.8h0.8M307.9 495.4h0.8M308.1 500.1h0.8M312.4 497.5h0.8M311.0 495.5h0.8M305.6 498.1h0.8M313.2 494.8h0.8M307.6 494.8h0.8M305.9 498.2h0.8M306.6 500.4h0.8M314.0 496.9h0.8M309.4 494.4h0.8M311.9 496.9h0.8M305.5 494.2h0.8M310.8 495.4h0.8M310.7 497.4h0.8M313.4 496.4h0.8M312.4 499.7h0.8M313.1 495.8h0.8M310.3 503.6h0.8M309.0 495.1h0.8M309.8 493.5h0.8M307.2 495.5h0.8M308.7 499.4h0.8M306.5 496.2h0.8M310.2 495.9h0.8M311.5 502.7h0.8M306.6 494.4h0.8M308.1 495.2h0.8M308.0 497.8h0.8M314.2 503.4h0.8M309.3 491.2h0.8M313.7 496.7h0.8M308.4 499.7h0.8M309.2 496.1h0.8M307.1 499.2h0.8M311.8 494.4h0.8M308.0 500.0h0.8M307.6 495.6h0.8M307.4 496.1h0.8M311.8 496.9h0.8M312.2 498.3h0.8M304.0 496.7h0.8M309.4 492.2h0.8M311.6 496.6h0.8M308.1 498.1h0.8M312.1 498.7h0.8M308.1 496.6h0.8M316.1 493.2h0.8M309.7 496.8h0.8M313.6 498.4h0.8M310.1 495.9h0.8M312.8 496.9h0.8M309.2 497.2h0.8M311.4 496.8h0.8M310.2 498.8h0.8M307.5 496.1h0.8" stroke="#000" stroke-width="0.8" fill="none"/>
<path d="M319.8 494.4h0.7M311.4 498.1h0.7M313.3 491.3h0.7M307.9 494.0h0.7M305.1 493.7h0.7M307.5 496.0h0.7M305.8 499.9h0.7M307.3 483.8h0.7M314.8 495.6h0.7M306.5 498.9h0.7M310.7 497.5h0.7M306.0 498.4h0.7M303.1 506.3h0.7M304.3 496.3h0.7M309.8 498.6h0.7M308.6 500.2h0.7M294.1 496.2h0.7M308.5 494.8h0.7M315.7 492.6h0.7M308.8 488.1h0.7M310.3 489.8h0.7M302.4 511.3h0.7M312.2 496.6h0.7M309.9 490.5h0.7M304.6 499.1h0.7M299.9 498.1h0.7M301.6 497.2h0.7M304.3 507.6h0.7M313.6 494.4h0.7M300.9 493.3h0.7M308.9 492.4h0.7M310.4 502.7h0.7M308.9 494.8h0.7M312.5 495.4h0.7M312.8 495.3h0.7M316.2 495.5h0.7M304.5 497.1h0.7M306.4 492.6h0.7M308.6 501.2h0.7M299.7 496.5h0.7M308.5 496.0h0.7M312.7 491.1h0.7M312.0 495.7h0.7M309.7 495.7h0.7M307.7 494.5h0.7M311.0 509.9h0.7M313.8 501.9h0.7M311.7 494.7h0.7M311.9 509.8h0.7M303.7 501.9h0.7M313.7 498.4h0.7M312.7 505.5h0.7M319.0 505.0h0.7M316.6 498.8h0.7M313.0 497.8h0.7M310.7 494.9h0.7M312.4 506.0h0.7M308.7 498.4h0.7M312.2 497.0h0.7M313.5 498.5h0.7M304.4 492.6h0.7M312.7 500.9h0.7M314.3 498.5h0.7M310.4 490.3h0.7M315.6 493.1h0.7M314.1 492.2h0.7M306.7 498.0h0.7M307.7 494.1h0.7M313.5 501.3h0.7M311.3 495.6h0.7M306.0 495.1h0.7M307.3 497.0h0.7M312.9 496.4h0.7M306.2 494.5h0.7M315.2 498.1h0.7M310.6 498.9h0.7M312.2 498.0h0.7M314.7 502.3h0.7M297.4 496.6h0.7M322.4 491.7h0.7M310.2 504.0h0.7M309.7 505.6h0.7M304.2 491.9h0.7M308.9 494.1h0.7M305.0 500.8h0.7M310.9 497.3h0.7M307.9 498.9h0.7M309.2 494.1h0.7M311.9 499.5h0.7M310.0 501.6h0.7M304.9 496.6h0.7M307.4 505.6h0.7M311.9 510.5h0.7M316.5 495.6h0.7M305.0 500.2h0.7M308.5 496.5h0.7M305.1 501.0h0.7M310.5 499.7h0.7M311.0 493.4h0.7M300.1 496.1h0.7M307.0 495.0h0.7M313.8 496.8h0.7M316.2 498.3h0.7M312.7 500.4h0.7M313.2 491.9h0.7M314.4 497.9h0.7M305.5 501.1h0.7M311.2 505.3h0.7M312.8 499.5h0.7M302.7 507.8h0.7M316.1 502.1h0.7M311.7 504.9h0.7M306.0 501.6h0.7M309.8 493.0h0.7M311.3 499.4h0.7M317.0 503.1h0.7M302.8 489.0h0.7M309.4 496.3h0.7M305.7 491.1h0.7M308.9 492.3h0.7M306.7 502.6h0.7M310.7 494.0h0.7M304.9 496.4h0.7M317.2 495.1h0.7M317.1 493.9h0.7M308.8 501.6h0.7M306.4 497.5h0.7M303.9 501.4h0.7M314.7 494.5h0.7M310.5 495.5h0.7M300.4 514.5h0.7M312.4 502.4h0.7M311.4 498.3h0.7M319.9 489.5h0.7M308.4 495.4h0.7M308.8 501.6h0.7M306.6 491.6h0.7M304.8 500.1h0.7M313.8 502.3h0.7M316.6 495.0h0.7M314.0 501.5h0.7M309.0 494.0h0.7M313.5 494.3h0.7M308.4 493.1h0.7M317.2 497.0h0.7M307.5 496.2h0.7M308.7 497.8h0.7M302.4 492.3h0.7M311.9 504.0h0.7M305.3 497.9h0.7M307.2 487.6h0.7M308.4 492.6h0.7M313.4 496.3h0.7M309.5 491.0h0.7M310.3 489.0h0.7M310.6 505.9h0.7M304.5 502.6h0.7M315.7 496.4h0.7M314.5 497.7h0.7M307.6 488.7h0.7M305.1 490.9h0.7M319.9 498.8h0.7M308.9 491.5h0.7M317.1 492.3h0.7M316.1 504.0h0.7M310.0 494.4h0.7M309.5 491.6h0.7M312.5 507.8h0.7M313.5 503.8h0.7M306.7 499.1h0.7" stroke="#000" stroke-width="0.7" fill="none"/>
<path d="M331.5 499.4h0.75M330.9 498.3h0.75M333.2 495.1h0.75M334.7 497.2h0.75M332.1 497.9h0.75M334.2 496.3h0.75M334.9 493.4h0.75M333.3 494.5h0.75M333.8 491.1h0.75M331.9 494.5h0.75M333.4 494.9h0.75M334.9 492.2h0.75M332.7 496.5h0.75M334.9 493.9h0.75M335.4 490.1h0.75M335.5 489.5h0.75M330.3 498.4h0.75M330.0 497.2h0.75M333.8 495.2h0.75M332.8 497.6h0.75M334.4 495.7h0.75M333.3 493.9h0.75M332.2 495.3h0.75M330.9 498.5h0.75M332.8 492.0h0.75M335.0 489.6h0.75M338.1 490.0h0.75M333.5 494.3h0.75M337.3 491.1h0.75M335.1 494.3h0.75M333.8 493.9h0.75M335.2 493.0h0.75M332.6 496.9h0.75M338.0 490.0h0.75M333.3 499.2h0.75M332.2 496.5h0.75M330.5 500.3h0.75M333.6 495.4h0.75M333.1 495.2h0.75M334.1 493.4h0.75M337.6 491.5h0.75M329.8 493.9h0.75M332.5 496.9h0.75M333.1 495.4h0.75M332.1 498.8h0.75M333.2 494.7h0.75M334.2 498.3h0.75M329.1 502.0h0.75M334.6 494.6h0.75M331.6 496.2h0.75M333.7 492.6h0.75M332.5 493.9h0.75M334.7 495.2h0.75M330.8 497.1h0.75M332.0 498.3h0.75M334.5 496.0h0.75M333.0 495.7h0.75M331.1 497.3h0.75M334.2 497.0h0.75M333.2 495.1h0.75M333.4 493.3h0.75M333.8 493.4h0.75M334.8 491.3h0.75M333.4 496.2h0.75M335.0 488.9h0.75M331.6 499.0h0.75M333.0 494.2h0.75M331.7 497.5h0.75M330.9 498.3h0.75M331.6 498.4h0.75M333.4 495.3h0.75M332.6 493.3h0.75M332.0 497.6h0.75M334.3 494.1h0.75M332.2 498.9h0.75M333.5 494.6h0.75M331.7 498.0h0.75M334.8 493.5h0.75M334.1 494.7h0.75M330.7 499.0h0.75M334.8 494.2h0.75M332.5 497.3h0.75M332.7 495.3h0.75M336.1 491.2h0.75M332.4 498.1h0.75M335.4 492.4h0.75M334.5 493.6h0.75M332.8 497.9h0.75M334.3 493.9h0.75M331.4 498.0h0.75M331.6 496.9h0.75M334.0 495.3h0.75M335.3 497.2h0.75M337.8 491.2h0.75M329.7 497.7h0.75M334.1 495.3h0.75M335.6 490.5h0.75M333.9 492.7h0.75M331.7 498.3h0.75M332.7 497.0h0.75M333.0 494.4h0.75M333.6 495.2h0.75M335.5 494.0h0.75M336.2 494.0h0.75M335.1 494.2h0.75M334.5 497.0h0.75M332.5 498.2h0.75M333.9 492.7h0.75M329.6 498.4h0.75M333.2 493.9h0.75M330.4 501.5h0.75M331.1 495.8h0.75M332.0 497.2h0.75M331.9 494.0h0.75M331.8 500.6h0.75M335.7 494.2h0.75M333.3 495.6h0.75M333.7 491.2h0.75M333.5 496.9h0.75M331.4 499.2h0.75M331.5 496.9h0.75M333.2 495.7h0.75M333.3 496.6h0.75M333.0 496.8h0.75M335.4 495.9h0.75M333.3 498.1h0.75M331.7 498.0h0.75M330.8 498.8h0.75M333.0 494.2h0.75M332.3 498.4h0.75M332.8 498.8h0.75M334.2 493.1h0.75M333.2 497.0h0.75M330.9 498.2h0.75M334.6 493.3h0.75M335.3 492.4h0.75M331.7 496.6h0.75M331.6 495.3h0.75M330.8 497.4h0.75M332.2 496.1h0.75M332.1 494.3h0.75M333.4 497.6h0.75M330.1 497.7h0.75M334.4 495.2h0.75M335.8 493.6h0.75M331.5 499.0h0.75M332.7 500.1h0.75M334.4 490.4h0.75M335.4 492.1h0.75M334.7 492.2h0.75M333.0 498.6h0.75M333.6 496.2h0.75M333.5 495.1h0.75M333.1 496.8h0.75M334.1 494.9h0.75M334.5 497.5h0.75M332.7 500.3h0.75M334.5 490.8h0.75M334.8 495.4h0.75M333.5 495.2h0.75" stroke="#000" stroke-width="0.75" fill="none"/>
<path d="M332.3 497.7h0.6M331.7 496.9h0.6M333.9 498.2h0.6M337.3 493.7h0.6M334.5 493.2h0.6M332.2 494.6h0.6M332.7 497.7h0.6M329.8 505.0h0.6M337.4 490.4h0.6M334.6 493.6h0.6M329.9 500.6h0.6M336.3 488.1h0.6M334.1 495.0h0.6M332.9 491.4h0.6M332.1 495.3h0.6M332.3 495.9h0.6M337.6 494.2h0.6M332.2 494.3h0.6M336.2 494.0h0.6M337.8 491.9h0.6M331.5 494.9h0.6M332.8 492.8h0.6M332.5 499.1h0.6M333.8 494.9h0.6M334.6 498.5h0.6M330.5 500.4h0.6M331.3 495.8h0.6M334.2 496.4h0.6M331.5 496.8h0.6M333.3 493.2h0.6M329.0 500.2h0.6M330.1 500.0h0.6M334.2 495.2h0.6M333.7 497.5h0.6M335.8 490.6h0.6M331.6 499.4h0.6M332.1 500.1h0.6M334.8 498.6h0.6M339.1 491.5h0.6M337.3 485.9h0.6M334.3 496.9h0.6M336.5 495.8h0.6M327.5 499.3h0.6M333.2 489.9h0.6M331.7 498.2h0.6M331.9 496.2h0.6M326.9 501.2h0.6M332.8 496.3h0.6M333.7 497.0h0.6M335.1 492.4h0.6" stroke="#222" stroke-width="0.6" fill="none"/>
<path d="M424.7 494.2h0.8M430.6 490.4h0.8M428.0 490.6h0.8M432.0 498.7h0.8M432.8 496.3h0.8M429.8 497.1h0.8M426.1 498.5h0.8M424.5 496.8h0.8M430.7 498.2h0.8M427.2 505.2h0.8M428.7 496.1h0.8M429.0 496.3h0.8M427.3 496.8h0.8M435.0 498.1h0.8M429.1 500.2h0.8M435.0 497.3h0.8M426.5 506.2h0.8M423.8 496.8h0.8M430.6 505.5h0.8M425.5 490.0h0.8M430.6 496.3h0.8M427.3 499.5h0.8M429.2 499.0h0.8M427.1 502.3h0.8M433.3 498.1h0.8M427.1 500.4h0.8M430.0 494.6h0.8M427.0 501.5h0.8M428.2 496.9h0.8M429.2 497.9h0.8M428.5 491.6h0.8M434.1 498.7h0.8M425.7 501.2h0.8M429.5 498.1h0.8M431.9 505.5h0.8M430.3 503.2h0.8M435.4 494.6h0.8M426.8 500.6h0.8M423.0 497.1h0.8M432.6 501.4h0.8M430.4 491.7h0.8M436.0 499.8h0.8M431.0 499.6h0.8M423.0 493.3h0.8M424.6 504.3h0.8M425.8 497.2h0.8M427.7 499.9h0.8M430.1 498.9h0.8M424.5 487.6h0.8M429.0 498.9h0.8M432.4 497.7h0.8M426.5 499.4h0.8M423.5 494.6h0.8M425.3 498.9h0.8M435.2 500.5h0.8M432.2 498.8h0.8M429.4 496.5h0.8M427.6 490.0h0.8M424.7 493.8h0.8M431.2 500.2h0.8M432.2 503.1h0.8M427.5 501.5h0.8M434.8 498.0h0.8M432.0 497.5h0.8M423.3 498.4h0.8M425.9 498.4h0.8M427.0 499.1h0.8M421.7 504.9h0.8M432.9 496.8h0.8M425.6 498.0h0.8M430.7 499.4h0.8M429.8 491.5h0.8M424.9 502.4h0.8M429.3 493.0h0.8M425.7 493.2h0.8M425.2 501.9h0.8M427.8 501.7h0.8M429.1 493.0h0.8M426.4 505.7h0.8M426.0 494.5h0.8M432.5 498.3h0.8M428.5 502.9h0.8M422.8 499.4h0.8M425.1 493.3h0.8M425.8 501.9h0.8M428.0 491.8h0.8M424.9 503.1h0.8M431.8 494.3h0.8M436.4 496.8h0.8M424.6 497.5h0.8M431.6 503.4h0.8M431.9 496.6h0.8M426.7 493.1h0.8M428.3 496.0h0.8M429.3 493.7h0.8M426.8 495.0h0.8M424.6 494.0h0.8M425.2 494.0h0.8M430.4 498.3h0.8M424.2 499.7h0.8M429.4 502.9h0.8M427.9 497.3h0.8M426.2 498.4h0.8M430.1 498.6h0.8M427.7 499.9h0.8M428.8 498.8h0.8M425.4 498.7h0.8M425.2 495.2h0.8M429.0 505.1h0.8M431.8 498.0h0.8M427.9 501.3h0.8M433.0 502.1h0.8M427.9 498.6h0.8M427.4 497.0h0.8M425.7 497.2h0.8M421.5 494.0h0.8M429.9 494.9h0.8M430.3 493.6h0.8M427.3 499.3h0.8M425.1 495.6h0.8M436.6 495.7h0.8M426.2 496.1h0.8M428.6 497.9h0.8M431.7 500.7h0.8M427.2 496.8h0.8M423.9 492.9h0.8M426.1 500.5h0.8M428.9 500.7h0.8M431.6 497.4h0.8M435.4 496.2h0.8M426.5 496.6h0.8M432.2 497.5h0.8M426.1 499.5h0.8M432.2 497.6h0.8M427.7 501.7h0.8M431.7 501.2h0.8M426.0 499.0h0.8M429.7 491.9h0.8M432.4 498.3h0.8M427.4 505.6h0.8M429.0 495.6h0.8M428.3 499.9h0.8M431.2 497.8h0.8M425.7 495.6h0.8M425.8 494.5h0.8M428.4 496.3h0.8M428.7 495.2h0.8M425.7 497.4h0.8M427.4 501.9h0.8M425.5 498.7h0.8M428.4 493.6h0.8M430.9 498.6h0.8M421.6 500.0h0.8M431.6 495.3h0.8M434.0 498.5h0.8M424.7 499.9h0.8M427.3 493.5h0.8M421.5 498.8h0.8M426.1 500.2h0.8M429.8 496.2h0.8M426.8 503.9h0.8M434.1 500.5h0.8M427.3 494.7h0.8M427.2 503.6h0.8M430.0 497.0h0.8M424.5 498.6h0.8M425.6 498.0h0.8M430.9 501.6h0.8M429.0 496.9h0.8M429.2 504.1h0.8M429.7 493.3h0.8M433.6 498.8h0.8M439.8 496.4h0.8M428.2 497.0h0.8M429.7 496.1h0.8M423.7 491.5h0.8M428.1 496.3h0.8M426.6 505.1h0.8M431.1 501.7h0.8M426.9 499.0h0.8M427.8 497.3h0.8M430.9 500.0h0.8M429.5 498.5h0.8M423.8 495.5h0.8M429.7 496.8h0.8M426.0 499.2h0.8M425.5 495.7h0.8M431.4 496.8h0.8M433.1 499.8h0.8M431.1 501.8h0.8M421.5 497.7h0.8M424.3 496.4h0.8M428.2 502.2h0.8M428.4 503.5h0.8M426.8 497.8h0.8M428.8 501.2h0.8M428.3 495.9h0.8M427.4 493.3h0.8M432.6 500.5h0.8M429.9 498.9h0.8M426.5 496.6h0.8M431.1 495.4h0.8M426.0 503.3h0.8M433.6 499.0h0.8M430.2 498.6h0.8M433.1 496.5h0.8M428.8 499.6h0.8M433.2 497.2h0.8M429.3 496.4h0.8M426.4 495.8h0.8M428.8 501.0h0.8M426.3 496.0h0.8M427.2 499.2h0.8M430.8 493.8h0.8M429.6 494.7h0.8M430.8 494.8h0.8M425.0 495.6h0.8M428.3 494.7h0.8M429.2 498.5h0.8M428.8 498.9h0.8M431.3 495.6h0.8M428.5 497.9h0.8M421.9 499.3h0.8M426.0 495.6h0.8M427.1 498.3h0.8M429.6 499.6h0.8M426.3 500.3h0.8M429.8 496.7h0.8M428.4 500.7h0.8M429.9 500.3h0.8M428.8 501.8h0.8M435.6 499.5h0.8M423.4 503.7h0.8M426.7 493.4h0.8M420.9 499.4h0.8M432.0 501.3h0.8M427.3 502.8h0.8M428.3 496.0h0.8M428.7 498.7h0.8M428.7 499.3h0.8M421.5 503.2h0.8M426.7 500.1h0.8M425.9 498.5h0.8M427.9 492.8h0.8M429.7 500.1h0.8M424.9 491.1h0.8M426.4 495.2h0.8M428.9 497.9h0.8M433.7 500.1h0.8M427.7 498.5h0.8M419.3 495.0h0.8M425.6 497.6h0.8M429.5 498.7h0.8M431.5 495.7h0.8M429.5 497.6h0.8M428.5 499.1h0.8M427.6 498.7h0.8M428.4 501.4h0.8M428.1 499.0h0.8M436.8 500.1h0.8M430.1 501.6h0.8M425.3 500.3h0.8M430.9 499.4h0.8M431.6 500.6h0.8M432.3 495.9h0.8M429.9 496.2h0.8M432.5 498.4h0.8M424.3 498.4h0.8M425.3 501.2h0.8M427.4 490.8h0.8M427.3 501.4h0.8M429.6 495.9h0.8M430.6 499.9h0.8M433.2 501.0h0.8M429.7 495.4h0.8M429.4 499.0h0.8M428.5 499.4h0.8M424.7 499.9h0.8M428.5 499.2h0.8M428.2 497.0h0.8M429.3 500.6h0.8M427.5 499.1h0.8M426.1 499.4h0.8M428.6 493.8h0.8M432.2 495.1h0.8M428.8 493.7h0.8M423.0 500.2h0.8M424.0 491.2h0.8M427.8 492.9h0.8M427.9 504.0h0.8M427.3 499.2h0.8M430.3 498.8h0.8M428.1 502.9h0.8M428.2 499.2h0.8M428.9 493.8h0.8M429.5 498.2h0.8M430.6 500.3h0.8M433.5 491.8h0.8M426.7 496.5h0.8M425.8 499.4h0.8M428.3 498.5h0.8M423.3 494.9h0.8M428.3 496.5h0.8M426.6 497.6h0.8M427.6 494.5h0.8M433.8 495.8h0.8M430.6 499.9h0.8M431.6 496.1h0.8M425.3 499.4h0.8M429.3 490.3h0.8M420.2 496.2h0.8M427.3 497.1h0.8M429.8 494.8h0.8M436.9 500.9h0.8M432.6 498.9h0.8M421.9 498.8h0.8M426.8 499.4h0.8M428.1 500.2h0.8M425.7 496.8h0.8M428.5 495.5h0.8M427.1 500.0h0.8M434.6 497.3h0.8M431.1 494.3h0.8M427.1 499.1h0.8M430.3 494.7h0.8M430.4 498.5h0.8M432.6 501.1h0.8M430.2 496.7h0.8M429.3 495.2h0.8M425.9 492.0h0.8M424.4 493.9h0.8M428.2 498.3h0.8M424.3 497.7h0.8M429.8 501.0h0.8M428.2 498.7h0.8M427.3 501.0h0.8M423.6 498.8h0.8M421.2 503.6h0.8M431.4 491.1h0.8M426.8 493.4h0.8M422.9 496.6h0.8M425.7 501.4h0.8M426.8 494.4h0.8M428.2 499.3h0.8M431.1 499.6h0.8M423.8 495.3h0.8M427.9 495.2h0.8M430.8 496.9h0.8M428.2 496.8h0.8M428.6 493.1h0.8M435.1 496.1h0.8M426.2 492.2h0.8M428.2 493.5h0.8M429.5 501.8h0.8M430.4 496.5h0.8M432.5 497.3h0.8M428.3 498.2h0.8M427.0 499.3h0.8M424.6 492.2h0.8M432.2 495.6h0.8M427.3 499.0h0.8M427.0 494.1h0.8M427.8 494.9h0.8M430.2 496.5h0.8M427.6 500.4h0.8M423.6 493.1h0.8M430.7 502.1h0.8M428.7 495.7h0.8M432.3 499.6h0.8M431.7 492.1h0.8M428.0 494.6h0.8M425.0 499.8h0.8M430.7 496.4h0.8M427.7 502.4h0.8M430.5 497.6h0.8M430.1 498.3h0.8M424.5 496.3h0.8M429.3 500.0h0.8M424.7 495.3h0.8M426.6 493.0h0.8M431.9 499.4h0.8M432.6 490.9h0.8M425.9 503.8h0.8M424.0 492.0h0.8M429.1 503.1h0.8M430.5 494.8h0.8M430.2 499.3h0.8M429.3 499.2h0.8M431.1 501.7h0.8M432.8 501.4h0.8M428.0 491.9h0.8M430.2 493.1h0.8M435.6 494.2h0.8M422.6 492.0h0.8M429.7 498.9h0.8M430.5 498.9h0.8M426.0 500.6h0.8M426.3 493.1h0.8M431.3 499.7h0.8M425.5 497.1h0.8M431.7 501.0h0.8M425.1 501.6h0.8M420.3 498.2h0.8M429.7 497.6h0.8M428.8 492.7h0.8M428.0 499.6h0.8M425.5 498.4h0.8M427.9 490.6h0.8M426.5 499.8h0.8M423.6 498.0h0.8M429.5 493.8h0.8M427.7 500.9h0.8M430.7 494.7h0.8M431.7 499.1h0.8M428.9 502.9h0.8M430.8 499.2h0.8M431.5 500.1h0.8M432.5 497.6h0.8M422.9 503.0h0.8M431.0 499.7h0.8M428.6 497.7h0.8M428.8 494.9h0.8M430.9 498.3h0.8M425.5 498.8h0.8M427.4 497.9h0.8M430.2 506.8h0.8M425.1 499.3h0.8M430.7 499.4h0.8M433.2 496.6h0.8M427.4 497.9h0.8M424.2 501.6h0.8M424.6 499.8h0.8M432.3 495.3h0.8M427.9 497.3h0.8M433.9 498.8h0.8M422.9 501.5h0.8M431.8 491.5h0.8M419.9 506.5h0.8M428.8 491.0h0.8M431.8 502.6h0.8M420.9 502.1h0.8M430.7 497.9h0.8M426.3 499.2h0.8M425.9 498.5h0.8M427.7 496.5h0.8M430.2 501.2h0.8M431.3 499.4h0.8M433.8 493.9h0.8M428.7 498.6h0.8M432.3 490.6h0.8M427.1 497.0h0.8M429.1 505.4h0.8M429.2 497.7h0.8M429.8 501.2h0.8M427.9 503.5h0.8M424.6 502.1h0.8M430.7 501.3h0.8M433.4 497.2h0.8M429.8 498.9h0.8M426.6 495.5h0.8M426.0 500.8h0.8M421.3 493.8h0.8M428.7 502.3h0.8M428.2 502.1h0.8M428.3 496.2h0.8M423.5 498.6h0.8M434.0 498.3h0.8M425.2 499.9h0.8M424.1 494.3h0.8M432.0 499.3h0.8M431.6 498.8h0.8M428.1 498.6h0.8M427.5 501.4h0.8M424.4 491.8h0.8M425.8 500.9h0.8M426.8 490.4h0.8M437.5 494.9h0.8M427.9 499.9h0.8M429.7 497.5h0.8M423.5 499.7h0.8M425.4 497.4h0.8M430.9 496.7h0.8M422.8 496.0h0.8M430.4 500.3h0.8M424.4 498.2h0.8M429.4 501.5h0.8M429.8 498.5h0.8M427.5 499.5h0.8M430.9 497.5h0.8M427.6 503.7h0.8M428.4 495.4h0.8M430.6 493.9h0.8M425.1 501.0h0.8M428.6 500.6h0.8M431.0 495.5h0.8M430.1 496.8h0.8M429.2 498.8h0.8M428.2 493.8h0.8M429.5 498.1h0.8M430.2 494.6h0.8M429.1 497.3h0.8M427.1 497.1h0.8M427.7 493.5h0.8M426.8 496.5h0.8M430.0 497.5h0.8M433.0 500.0h0.8M429.5 498.7h0.8M424.0 499.2h0.8M432.5 494.7h0.8M432.7 500.0h0.8M429.4 496.6h0.8M428.6 495.4h0.8M428.4 498.2h0.8M428.7 494.0h0.8M431.4 495.9h0.8M429.8 499.9h0.8M427.9 506.0h0.8M428.9 499.4h0.8M427.7 499.1h0.8M424.5 500.1h0.8M427.3 496.3h0.8M430.9 500.9h0.8M427.2 494.7h0.8M422.2 494.8h0.8M430.0 500.1h0.8M424.5 498.2h0.8M431.8 495.5h0.8M426.8 495.1h0.8M429.8 491.9h0.8M428.1 499.5h0.8M428.3 501.1h0.8M430.4 496.3h0.8M425.4 494.6h0.8M430.0 497.6h0.8M428.9 495.0h0.8M432.1 500.8h0.8M430.9 494.4h0.8M436.6 500.7h0.8M425.1 501.1h0.8M428.1 495.5h0.8M426.1 499.6h0.8M429.5 498.7h0.8M427.8 494.7h0.8M429.3 497.1h0.8M427.9 500.0h0.8M433.8 496.0h0.8M431.5 495.6h0.8M431.1 500.1h0.8M428.6 498.8h0.8M426.1 496.9h0.8M431.5 500.5h0.8M435.6 494.8h0.8M427.0 498.3h0.8M428.7 496.4h0.8M427.2 497.7h0.8M432.5 497.7h0.8M426.1 499.0h0.8M420.3 495.2h0.8M426.5 499.0h0.8M421.4 497.3h0.8M425.2 501.2h0.8M431.0 496.6h0.8M430.0 494.2h0.8M429.2 498.8h0.8M431.8 496.6h0.8M421.8 500.6h0.8M425.1 496.3h0.8M427.4 503.3h0.8M428.4 501.7h0.8M428.7 493.5h0.8M429.9 499.7h0.8M426.7 493.0h0.8M437.4 504.9h0.8M429.8 499.5h0.8M431.4 499.9h0.8M423.9 493.6h0.8M431.1 502.4h0.8M431.8 500.7h0.8M428.5 501.1h0.8M433.3 499.7h0.8M432.4 501.9h0.8M426.3 501.8h0.8M426.1 495.1h0.8M433.5 492.7h0.8M427.9 500.9h0.8M429.7 496.8h0.8M425.6 499.6h0.8M430.2 497.7h0.8M425.5 493.4h0.8M428.5 497.9h0.8M431.1 497.0h0.8M431.3 494.1h0.8M423.1 501.0h0.8M427.2 495.3h0.8M428.1 494.1h0.8M427.4 493.6h0.8M429.0 496.1h0.8M428.3 498.0h0.8M429.9 492.5h0.8M429.0 497.2h0.8M424.9 497.2h0.8M430.1 499.5h0.8M434.7 497.0h0.8M428.9 504.2h0.8M426.7 495.4h0.8M427.1 496.1h0.8M428.4 498.5h0.8M426.2 494.4h0.8M428.3 494.1h0.8M426.0 499.1h0.8M428.2 494.8h0.8M424.1 494.8h0.8M423.9 499.7h0.8M430.8 499.0h0.8M429.5 496.4h0.8M429.0 498.2h0.8M428.7 496.4h0.8M425.2 498.9h0.8M429.7 494.5h0.8M427.8 497.9h0.8M430.0 492.6h0.8M424.2 493.6h0.8M424.7 494.6h0.8M431.1 494.3h0.8M435.1 498.9h0.8M430.6 497.9h0.8M431.2 499.2h0.8M431.0 499.9h0.8M430.4 499.2h0.8M431.9 498.1h0.8M426.9 503.1h0.8M427.0 499.3h0.8M435.0 496.0h0.8M427.7 495.9h0.8M425.6 500.1h0.8M427.9 498.4h0.8M423.2 499.5h0.8M426.3 491.9h0.8M426.3 492.9h0.8M433.4 492.7h0.8M429.4 494.7h0.8M426.0 493.9h0.8M432.2 494.5h0.8M426.5 498.7h0.8M427.4 500.2h0.8M426.2 492.9h0.8M429.9 501.8h0.8M430.1 495.3h0.8M432.1 500.5h0.8M427.3 499.4h0.8M428.4 498.4h0.8M430.5 500.8h0.8M428.8 498.2h0.8M420.8 495.4h0.8M429.9 495.5h0.8M429.7 497.4h0.8M428.7 498.3h0.8M432.6 499.6h0.8M428.7 494.2h0.8M429.7 494.6h0.8M432.3 495.8h0.8M426.6 497.5h0.8M425.4 499.6h0.8M429.5 495.9h0.8M426.9 503.8h0.8M432.1 499.8h0.8M429.4 502.8h0.8M427.3 497.2h0.8M428.1 494.7h0.8M425.8 503.9h0.8M429.0 495.2h0.8M427.8 496.5h0.8M427.2 497.8h0.8M424.0 492.3h0.8M427.9 497.3h0.8M424.9 497.7h0.8M426.8 498.7h0.8M427.9 501.5h0.8M432.8 500.1h0.8M428.6 500.7h0.8M430.8 499.5h0.8M430.9 496.9h0.8M430.9 499.7h0.8M429.8 497.5h0.8M427.3 499.9h0.8M427.0 494.7h0.8M433.7 501.8h0.8M426.2 502.4h0.8M422.3 500.0h0.8M430.7 498.8h0.8M427.9 500.5h0.8M430.2 494.5h0.8M426.3 501.2h0.8M430.9 494.5h0.8M424.0 499.4h0.8M426.1 495.8h0.8M427.0 498.8h0.8M422.4 500.5h0.8M427.4 501.0h0.8M425.1 495.3h0.8M430.1 501.2h0.8M428.4 497.0h0.8M432.7 501.5h0.8M429.5 497.3h0.8M432.4 500.3h0.8M427.5 502.7h0.8M432.0 498.8h0.8M430.0 500.5h0.8M427.2 494.3h0.8M432.2 493.0h0.8M424.0 493.6h0.8M430.1 501.4h0.8M426.6 502.2h0.8M433.6 502.4h0.8M424.7 502.2h0.8M435.6 495.2h0.8M423.6 502.1h0.8M430.2 498.0h0.8M428.4 492.7h0.8M426.0 498.7h0.8M430.0 501.0h0.8M431.5 496.6h0.8M428.4 502.6h0.8M424.4 499.7h0.8M426.0 498.8h0.8M434.3 499.3h0.8M427.2 495.9h0.8M424.3 498.0h0.8M421.6 497.8h0.8M429.0 495.2h0.8M426.2 501.9h0.8M432.4 504.6h0.8M432.1 499.1h0.8M427.9 502.0h0.8M430.7 498.7h0.8M434.1 497.6h0.8M429.1 501.6h0.8M430.1 498.3h0.8M431.8 506.9h0.8M427.6 500.3h0.8M429.9 498.6h0.8M433.8 497.8h0.8M433.8 495.0h0.8M429.0 495.5h0.8M429.7 500.3h0.8M430.3 498.8h0.8M427.8 494.2h0.8M431.2 498.2h0.8M432.2 492.8h0.8M427.8 492.7h0.8M432.0 495.8h0.8M425.4 500.9h0.8M428.3 498.9h0.8M428.3 501.6h0.8M429.5 498.9h0.8M428.6 501.2h0.8M432.1 497.0h0.8M431.2 493.3h0.8M426.1 496.4h0.8M426.3 499.8h0.8M424.3 493.2h0.8M429.2 495.3h0.8M428.8 498.4h0.8M426.5 496.8h0.8M431.2 498.1h0.8M428.8 500.2h0.8M426.3 494.2h0.8M427.5 503.2h0.8M430.4 505.2h0.8M431.6 501.0h0.8M427.0 492.9h0.8M422.0 498.5h0.8M425.1 494.3h0.8M430.3 499.0h0.8M424.6 498.9h0.8M432.9 501.1h0.8M426.4 501.1h0.8M422.4 497.1h0.8M427.2 502.0h0.8M424.8 495.0h0.8M427.5 500.5h0.8M424.2 498.8h0.8M427.4 496.6h0.8M424.6 499.4h0.8M429.0 499.4h0.8M429.1 497.7h0.8M425.8 498.0h0.8M431.0 498.5h0.8M430.2 500.8h0.8M429.6 497.3h0.8M425.6 502.1h0.8M428.0 497.5h0.8M428.8 500.7h0.8M431.2 495.8h0.8M428.3 501.8h0.8M426.7 498.2h0.8M426.0 493.4h0.8M424.6 498.6h0.8M429.5 489.8h0.8M427.8 497.4h0.8M423.8 497.8h0.8M426.1 502.4h0.8M425.5 501.4h0.8M424.9 494.8h0.8M433.0 495.7h0.8M427.2 493.0h0.8M429.0 502.5h0.8M427.7 497.2h0.8M428.6 495.6h0.8M424.6 498.2h0.8M427.6 492.5h0.8M421.1 499.6h0.8M424.6 499.5h0.8M431.3 497.8h0.8M426.7 490.0h0.8M433.3 500.9h0.8M426.2 494.6h0.8M430.1 491.7h0.8M430.7 501.0h0.8M424.8 494.6h0.8M434.1 496.5h0.8M429.1 496.9h0.8M422.2 501.3h0.8M433.6 496.2h0.8M425.7 502.9h0.8M423.8 497.0h0.8M424.3 493.0h0.8M426.6 489.5h0.8M424.8 498.2h0.8M426.2 494.5h0.8M436.2 500.5h0.8M426.9 501.5h0.8M430.5 498.6h0.8M430.8 496.8h0.8M426.7 503.8h0.8M428.8 502.9h0.8M422.3 495.1h0.8M425.7 498.4h0.8M428.3 501.1h0.8M430.1 498.0h0.8M430.2 500.3h0.8M429.4 490.2h0.8M427.0 500.0h0.8M427.3 502.5h0.8M426.9 498.2h0.8M426.0 497.6h0.8M432.0 502.6h0.8M431.2 500.2h0.8M428.9 493.9h0.8M430.5 495.9h0.8M429.4 497.7h0.8M431.2 495.9h0.8M431.0 498.0h0.8M433.6 497.6h0.8M428.0 492.0h0.8M431.2 498.1h0.8M421.7 499.5h0.8M430.0 497.0h0.8M432.6 497.7h0.8M428.1 499.3h0.8M425.0 499.8h0.8M425.9 498.8h0.8M431.9 496.8h0.8M426.5 503.4h0.8M428.6 501.5h0.8M430.4 499.5h0.8M433.0 497.9h0.8M423.8 497.3h0.8M426.7 494.5h0.8M427.3 499.4h0.8M430.1 498.3h0.8M428.1 498.3h0.8M427.2 495.3h0.8M428.8 500.8h0.8M426.3 498.1h0.8M430.7 495.0h0.8M429.7 498.6h0.8M431.7 495.2h0.8M427.2 503.0h0.8M434.9 500.0h0.8M432.9 496.1h0.8M431.7 499.1h0.8M430.7 494.2h0.8M429.1 500.3h0.8M432.1 499.6h0.8M430.0 501.3h0.8M434.0 493.7h0.8M422.9 498.3h0.8M433.7 504.0h0.8M430.9 495.2h0.8M430.5 496.2h0.8M431.3 497.6h0.8M433.9 495.1h0.8M433.2 495.9h0.8M430.8 499.2h0.8M424.6 492.0h0.8M428.1 497.2h0.8M426.8 500.5h0.8M429.6 500.1h0.8M425.4 497.7h0.8M428.1 501.4h0.8M432.6 496.6h0.8M428.6 490.3h0.8M435.0 499.3h0.8M430.2 499.2h0.8M428.1 492.5h0.8M425.8 495.5h0.8M427.9 494.6h0.8M429.3 500.2h0.8M429.2 498.6h0.8M436.0 495.6h0.8M426.6 500.8h0.8M427.5 503.7h0.8M426.5 498.1h0.8M434.0 493.0h0.8M431.9 499.1h0.8M429.3 502.6h0.8M426.8 500.2h0.8M427.1 502.3h0.8M424.8 497.9h0.8M427.0 494.6h0.8M431.7 496.8h0.8M430.4 490.6h0.8M425.4 495.0h0.8M429.7 493.0h0.8M429.7 501.2h0.8M428.9 498.6h0.8M427.4 495.3h0.8M428.5 498.8h0.8M433.2 498.7h0.8M426.4 500.8h0.8M425.4 491.6h0.8M427.8 495.8h0.8M430.5 497.9h0.8M424.5 495.7h0.8M426.9 504.7h0.8M424.6 494.7h0.8M432.4 502.8h0.8M427.5 502.5h0.8M428.3 495.1h0.8M428.2 500.9h0.8M433.1 497.3h0.8M424.5 498.8h0.8M427.1 495.9h0.8M429.9 498.7h0.8M424.7 495.8h0.8M432.9 497.4h0.8M434.2 490.3h0.8M425.2 498.1h0.8M425.5 498.6h0.8M428.8 493.7h0.8M434.2 503.7h0.8M423.3 497.1h0.8M424.4 496.7h0.8M427.1 497.3h0.8M432.0 501.9h0.8M427.5 499.4h0.8M430.6 493.0h0.8M428.8 494.7h0.8M432.2 502.1h0.8M429.5 502.8h0.8M427.7 495.5h0.8M432.8 498.1h0.8M429.6 493.7h0.8M430.8 497.8h0.8M428.1 494.5h0.8M426.1 496.6h0.8M429.0 502.1h0.8M423.0 493.5h0.8M425.5 495.6h0.8M425.9 494.2h0.8M426.4 499.4h0.8M427.2 495.0h0.8M430.4 498.5h0.8M425.4 501.9h0.8M426.4 494.8h0.8M429.7 495.3h0.8M425.3 502.4h0.8M427.1 494.9h0.8M429.1 497.5h0.8M422.3 496.5h0.8M430.0 496.5h0.8M429.9 494.2h0.8M431.1 496.8h0.8M426.2 493.9h0.8M431.4 497.8h0.8M427.2 499.1h0.8M428.0 496.8h0.8M429.5 496.5h0.8M431.4 505.5h0.8M423.1 498.1h0.8M427.2 500.0h0.8M422.3 504.9h0.8M431.0 504.7h0.8M432.1 494.7h0.8M428.0 503.3h0.8M432.0 495.5h0.8M429.3 502.4h0.8M432.6 496.8h0.8M429.8 499.8h0.8M427.8 497.2h0.8M431.6 498.0h0.8M428.3 501.8h0.8M432.2 499.9h0.8M427.2 495.4h0.8M425.1 496.0h0.8M429.5 493.8h0.8M425.8 494.8h0.8M429.1 496.7h0.8M433.3 502.3h0.8M428.7 497.6h0.8M432.0 495.2h0.8M431.6 494.0h0.8M427.4 499.1h0.8M429.0 492.8h0.8M426.0 498.5h0.8M423.6 503.8h0.8M426.4 498.5h0.8M437.3 497.2h0.8M429.4 500.0h0.8M428.1 494.8h0.8M423.7 498.8h0.8M427.9 502.4h0.8M429.1 500.2h0.8M425.3 497.0h0.8M429.9 496.9h0.8M430.7 496.7h0.8M427.7 499.3h0.8M424.9 506.5h0.8M424.6 502.8h0.8M433.4 497.2h0.8M429.9 501.2h0.8M429.7 500.2h0.8M427.5 499.7h0.8M426.8 494.4h0.8M427.9 500.4h0.8M429.5 499.3h0.8M427.3 498.5h0.8M426.1 497.6h0.8M428.9 495.4h0.8M433.3 491.7h0.8M430.6 497.0h0.8M431.8 496.4h0.8M431.2 495.6h0.8M426.1 497.3h0.8M428.6 494.8h0.8M432.2 494.5h0.8M427.8 498.4h0.8M428.1 501.4h0.8M425.6 501.2h0.8M432.1 498.1h0.8M434.7 492.9h0.8M426.7 493.3h0.8M418.8 490.5h0.8M429.4 494.5h0.8M420.9 498.2h0.8M424.4 496.6h0.8M426.8 502.6h0.8M420.8 498.6h0.8M439.2 498.0h0.8M429.4 497.7h0.8M431.1 499.3h0.8M430.4 494.3h0.8M428.4 499.5h0.8M428.5 499.7h0.8M431.8 502.3h0.8M429.2 499.9h0.8M427.3 496.8h0.8M430.8 493.9h0.8M432.2 494.3h0.8M428.2 495.4h0.8M425.7 499.5h0.8M423.0 502.6h0.8M423.2 500.3h0.8M427.6 497.0h0.8M429.5 502.2h0.8M429.1 495.7h0.8M428.5 501.2h0.8M425.3 498.9h0.8M432.4 495.9h0.8M428.0 501.0h0.8M426.6 497.9h0.8M427.6 498.8h0.8M424.9 492.5h0.8M432.0 495.4h0.8M425.4 500.8h0.8M426.6 497.3h0.8M424.9 497.0h0.8M429.6 501.4h0.8M430.9 493.9h0.8M427.4 500.1h0.8M425.7 494.9h0.8M427.4 501.6h0.8M424.8 500.6h0.8M430.7 495.8h0.8M424.5 497.0h0.8M427.3 495.9h0.8M428.6 505.5h0.8M431.5 501.9h0.8M428.3 501.8h0.8M426.2 498.7h0.8M432.1 505.4h0.8M430.2 498.4h0.8M428.3 494.8h0.8M430.4 503.4h0.8M430.7 497.7h0.8M427.6 494.8h0.8M432.8 497.9h0.8M432.2 495.0h0.8M430.8 500.6h0.8M428.0 496.2h0.8M436.8 503.3h0.8M432.6 495.8h0.8M433.1 500.0h0.8M434.1 497.6h0.8M427.8 494.5h0.8M423.6 492.4h0.8M427.2 498.0h0.8M433.3 504.4h0.8M426.6 490.5h0.8M429.4 499.2h0.8M427.1 494.8h0.8M426.2 498.6h0.8M429.0 492.3h0.8M428.0 494.5h0.8M425.3 498.2h0.8M425.7 498.6h0.8M420.5 499.6h0.8M429.0 496.3h0.8M425.7 492.6h0.8M424.7 503.7h0.8M429.6 497.5h0.8M426.3 495.7h0.8M424.6 498.9h0.8M431.4 494.4h0.8M430.3 496.4h0.8M429.4 494.9h0.8M430.9 503.4h0.8M426.5 496.9h0.8M431.4 495.6h0.8M424.2 489.5h0.8M426.6 501.7h0.8M426.0 497.2h0.8M420.4 496.2h0.8M427.7 495.5h0.8M426.7 493.8h0.8M425.3 501.6h0.8M424.5 502.0h0.8M424.0 502.0h0.8M427.9 499.9h0.8" stroke="#000" stroke-width="0.8" fill="none"/>
<path d="M431.2 490.6h0.7M425.1 499.3h0.7M435.9 498.8h0.7M420.8 501.0h0.7M423.0 507.3h0.7M427.6 511.1h0.7M428.2 494.1h0.7M421.7 497.1h0.7M430.9 507.0h0.7M430.1 495.4h0.7M431.2 492.2h0.7M431.2 495.3h0.7M436.0 505.6h0.7M430.6 494.1h0.7M431.4 501.3h0.7M426.2 495.9h0.7M434.9 497.0h0.7M430.9 508.4h0.7M421.7 511.1h0.7M433.7 495.8h0.7M424.2 493.2h0.7M433.3 487.0h0.7M433.3 500.0h0.7M425.5 496.5h0.7M427.0 497.7h0.7M433.1 495.0h0.7M434.1 505.6h0.7M427.6 503.0h0.7M426.2 499.2h0.7M431.2 512.2h0.7M428.6 498.1h0.7M429.0 498.0h0.7M423.6 511.8h0.7M425.8 496.1h0.7M425.4 503.6h0.7M443.0 519.8h0.7M433.5 501.2h0.7M428.7 494.2h0.7M432.4 498.4h0.7M438.8 497.5h0.7M424.0 490.3h0.7M420.2 503.0h0.7M430.5 493.5h0.7M421.4 500.8h0.7M427.1 500.4h0.7M428.7 495.2h0.7M420.4 499.7h0.7M429.3 500.1h0.7M433.4 505.2h0.7M426.4 502.9h0.7M418.3 503.5h0.7M428.7 505.9h0.7M433.6 494.4h0.7M428.2 506.6h0.7M426.2 499.3h0.7M425.9 502.9h0.7M430.2 495.0h0.7M421.9 488.5h0.7M432.9 496.7h0.7M425.4 496.4h0.7M424.3 503.6h0.7M431.8 488.4h0.7M428.7 499.5h0.7M427.2 499.5h0.7M436.9 501.0h0.7M434.6 505.9h0.7M421.5 511.2h0.7M429.8 497.5h0.7M432.9 514.5h0.7M425.0 495.6h0.7M430.6 490.5h0.7M423.4 499.2h0.7M432.5 502.7h0.7M432.9 506.4h0.7M426.7 497.2h0.7M427.3 497.3h0.7M434.3 504.9h0.7M418.8 502.2h0.7M423.7 493.6h0.7M435.1 508.1h0.7M434.6 503.6h0.7M437.7 493.5h0.7M432.9 495.7h0.7M425.9 491.2h0.7M436.3 511.3h0.7M433.1 496.1h0.7M429.7 493.9h0.7M427.5 509.5h0.7M436.7 503.6h0.7M432.7 498.3h0.7M430.7 498.1h0.7M431.2 495.9h0.7M433.8 497.8h0.7M429.9 498.2h0.7M436.4 505.3h0.7M425.0 494.4h0.7M431.7 499.7h0.7M427.7 500.4h0.7M437.0 498.5h0.7M435.9 496.6h0.7M427.7 501.1h0.7M428.5 496.6h0.7M423.7 497.3h0.7M426.9 498.9h0.7M434.0 502.5h0.7M434.6 500.4h0.7M431.1 503.3h0.7M432.4 506.1h0.7M426.2 502.0h0.7M429.9 507.6h0.7M433.0 496.2h0.7M431.0 503.9h0.7M429.2 507.8h0.7M430.2 493.0h0.7M430.4 504.5h0.7M425.0 503.9h0.7M415.5 513.1h0.7M422.1 496.7h0.7M427.4 492.3h0.7M430.4 494.6h0.7M422.4 488.1h0.7M432.3 507.1h0.7M427.5 500.4h0.7M436.6 501.7h0.7M434.5 506.0h0.7M432.5 502.7h0.7M434.7 500.5h0.7M429.6 495.6h0.7M418.9 494.7h0.7M427.3 506.3h0.7M427.2 489.7h0.7M432.3 507.7h0.7M430.5 501.1h0.7M430.3 498.6h0.7M435.8 495.1h0.7M425.3 492.2h0.7M426.5 495.7h0.7M425.8 500.4h0.7M434.1 492.6h0.7M429.6 495.7h0.7M425.7 496.9h0.7M430.8 491.4h0.7M436.3 498.6h0.7M425.4 491.5h0.7M434.2 504.0h0.7M433.3 500.1h0.7M437.5 510.1h0.7M439.5 501.5h0.7M433.7 497.2h0.7M429.6 497.5h0.7M429.2 499.5h0.7M429.1 499.0h0.7M429.8 497.1h0.7M425.6 496.8h0.7M432.2 504.1h0.7M434.3 516.1h0.7M424.0 505.0h0.7M422.6 496.3h0.7M425.0 499.5h0.7M435.4 509.7h0.7M430.6 505.8h0.7M431.1 493.2h0.7M437.1 496.1h0.7M426.4 498.6h0.7M424.3 495.9h0.7M432.6 494.5h0.7M425.8 490.9h0.7M419.7 501.2h0.7M431.0 497.2h0.7M437.3 494.3h0.7M431.5 495.5h0.7M428.8 502.5h0.7M422.3 508.6h0.7M428.5 499.3h0.7M428.1 501.5h0.7M422.9 493.3h0.7M430.7 497.9h0.7M427.0 501.2h0.7M436.5 494.1h0.7M417.0 497.4h0.7M420.6 497.8h0.7M424.2 499.3h0.7M438.0 498.5h0.7M420.7 493.8h0.7M423.7 492.2h0.7M431.1 500.3h0.7M433.8 504.8h0.7M428.3 496.2h0.7M426.4 498.7h0.7M425.6 491.4h0.7M440.3 508.8h0.7M427.5 496.8h0.7M427.1 502.1h0.7M427.3 488.6h0.7M430.2 502.7h0.7M422.2 492.2h0.7M428.4 493.7h0.7M433.9 504.9h0.7M420.5 502.2h0.7M421.8 495.5h0.7" stroke="#000" stroke-width="0.7" fill="none"/>
<path d="M446.6 495.6h.7M451.4 494.2h.7M444 497h.6" stroke="#999" stroke-width="0.7"/>
</g>
<g id="E">
<text class="pl" x="-0.9" y="628.8">E</text>
<text class="big" transform="translate(12.7,806) rotate(-90)" textLength="96.4" lengthAdjust="spacingAndGlyphs" style="font-size:15.5px">PMN per HPF</text>
<path class="ax" d="M42.5 640.5 V904 H266"/>
<path class="tk" d="M39.5 904.0 H42.5"/>
<text class="t" x="36.5" y="907.9" text-anchor="end" style="font-size:11px">0</text>
<path class="tk" d="M39.5 874.8 H42.5"/>
<text class="t" x="36.5" y="878.6" text-anchor="end" style="font-size:11px">10</text>
<path class="tk" d="M39.5 845.5 H42.5"/>
<text class="t" x="36.5" y="849.4" text-anchor="end" style="font-size:11px">20</text>
<path class="tk" d="M39.5 816.2 H42.5"/>
<text class="t" x="36.5" y="820.1" text-anchor="end" style="font-size:11px">30</text>
<path class="tk" d="M39.5 787.0 H42.5"/>
<text class="t" x="36.5" y="790.9" text-anchor="end" style="font-size:11px">40</text>
<path class="tk" d="M39.5 757.8 H42.5"/>
<text class="t" x="36.5" y="761.6" text-anchor="end" style="font-size:11px">50</text>
<path class="tk" d="M39.5 728.5 H42.5"/>
<text class="t" x="36.5" y="732.4" text-anchor="end" style="font-size:11px">60</text>
<path class="tk" d="M39.5 699.2 H42.5"/>
<text class="t" x="36.5" y="703.1" text-anchor="end" style="font-size:11px">70</text>
<path class="tk" d="M39.5 670.0 H42.5"/>
<text class="t" x="36.5" y="673.9" text-anchor="end" style="font-size:11px">80</text>
<path class="tk" d="M39.5 640.8 H42.5"/>
<text class="t" x="36.5" y="644.6" text-anchor="end" style="font-size:11px">90</text>
<rect x="77.5" y="895.5" width="21.0" height="8.5" fill="#fff" stroke="#727272" stroke-width="0.9"/>
<path d="M108.8 895.5 V894.3 M106.7 894.3 H110.8" stroke="#777" stroke-width="1" fill="none"/>
<rect x="98.5" y="895.5" width="20.5" height="8.5" fill="#000" stroke="#727272" stroke-width="0.9"/>
<path d="M129.5 895.5 V894.5 M127.4 894.5 H131.6" stroke="#777" stroke-width="1" fill="none"/>
<rect x="119" y="895.5" width="21.0" height="8.5" fill="#ccc" stroke="#727272" stroke-width="0.9"/>
<path d="M190.2 676.5 V666.5 M188.2 666.5 H192.3" stroke="#777" stroke-width="1" fill="none"/>
<rect x="180" y="676.5" width="20.5" height="227.5" fill="#fff" stroke="#727272" stroke-width="0.9"/>
<path d="M211.0 787.5 V781 M208.9 781 H213.1" stroke="#777" stroke-width="1" fill="none"/>
<rect x="200.5" y="787.5" width="21.0" height="116.5" fill="#000" stroke="#727272" stroke-width="0.9"/>
<path d="M232.0 836 V833 M229.9 833 H234.1" stroke="#777" stroke-width="1" fill="none"/>
<rect x="221.5" y="836" width="21.0" height="68.0" fill="#ccc" stroke="#727272" stroke-width="0.9"/>
<text class="t" x="110" y="923.5" text-anchor="middle">medium</text>
<text class="t" x="211.2" y="923.5" text-anchor="middle">fMLP (10nM)</text>
<rect x="50.9" y="632.6" width="4.3" height="4.3" fill="#fff" stroke="#666" stroke-width="0.9"/>
<text class="t" x="58.1" y="638.3" style="font-size:11.85px">Normal</text>
<rect x="50.9" y="648.4" width="4.3" height="4.3" fill="#000" stroke="#666" stroke-width="0.9"/>
<text class="t" x="58.1" y="653.7" style="font-size:11.85px">PNH07</text>
<rect x="50.9" y="664.6" width="4.3" height="4.3" fill="#ccc" stroke="#666" stroke-width="0.9"/>
<text class="t" x="58.1" y="670" style="font-size:11.85px">PNH CD157-deprived</text>
</g>
</svg></body></html>
